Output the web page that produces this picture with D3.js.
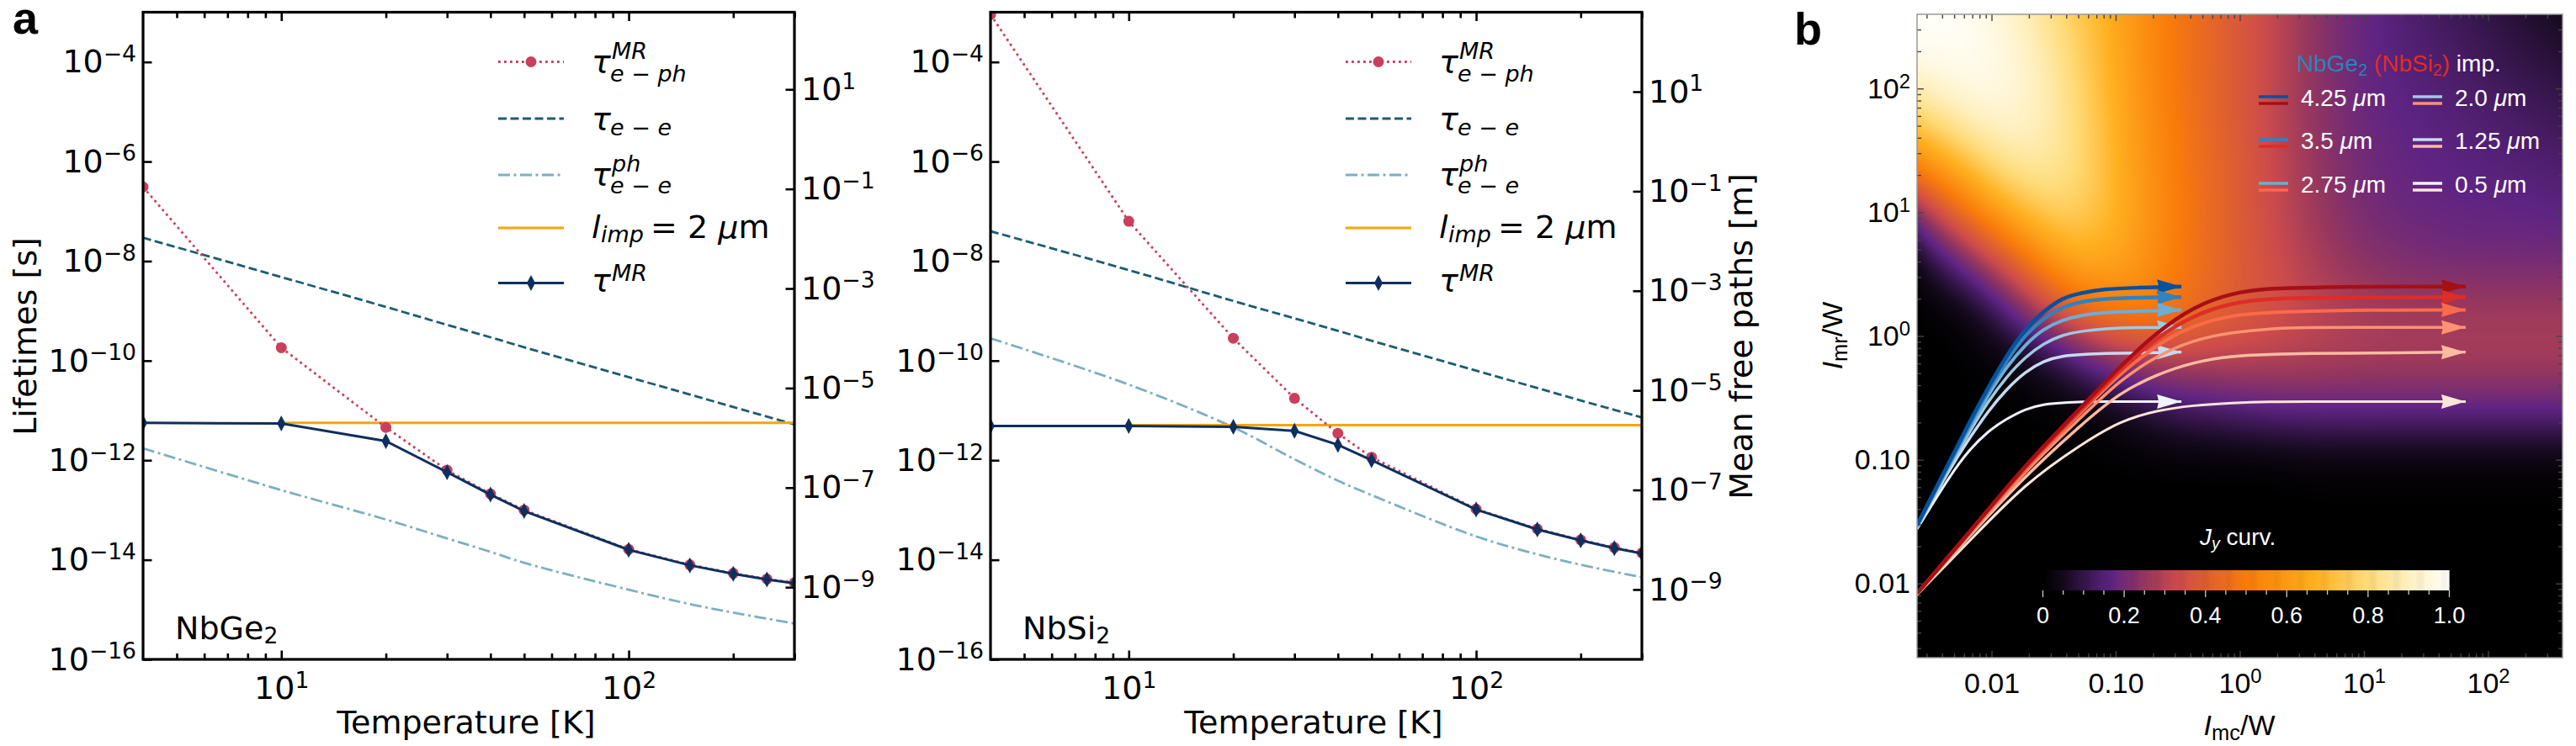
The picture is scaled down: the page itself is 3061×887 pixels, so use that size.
<!DOCTYPE html>
<html>
<head>
<meta charset="utf-8">
<title>Lifetimes and Jy curvature</title>
<script src="https://cdn.jsdelivr.net/npm/d3@7"></script>
<style>
    html, body { margin: 0; padding: 0; background: #fff; }
    svg { display: block; }
    .dv text, text.dv { font-family: "DejaVu Sans"; }
    .lb text, text.lb { font-family: "Liberation Sans"; }
</style>
</head>
<body>
<svg id="fig" width="3061" height="887"></svg>
<script>
// Temperatures [K] of the computed points and of the smooth curves
const tempPoints = [4, 10, 20, 30, 40, 50, 100, 150, 200, 250, 300];
const tempCurve = [4, 10, 20, 30, 40, 50, 100, 150, 200, 300];

// log10 of lifetime [s]
const geTauPhLog = [-6.51, -9.74, -11.34, -12.2, -12.675, -13.0, -13.79, -14.1, -14.27, -14.385, -14.46];
const geTauMrLog = [-11.25, -11.26, -11.615, -12.24, -12.69, -13.02, -13.8, -14.11, -14.28, -14.395, -14.47];
const geTauEeLog = [-7.53, -8.32, -8.92, -9.28, -9.53, -9.73, -10.33, -10.68, -10.93, -11.28];
const geTauEePhLog = [-11.76, -12.6, -13.19, -13.57, -13.84, -14.06, -14.6, -14.89, -15.06, -15.28];

const siTauPhLog = [-3.045, -7.2, -9.55, -10.755, -11.46, -11.94, -12.98, -13.38, -13.6, -13.755, -13.86];
const siTauMrLog = [-11.31, -11.31, -11.33, -11.41, -11.69, -12.0, -12.99, -13.39, -13.61, -13.765, -13.87];
const siTauEeLog = [-7.4, -8.18, -8.8, -9.15, -9.4, -9.6, -10.2, -10.55, -10.8, -11.14];
const siTauEePhLog = [-9.55, -10.48, -11.34, -11.98, -12.41, -12.7, -13.53, -13.89, -14.1, -14.35];

// Fermi velocity [m/s] links the lifetime axis to the mean free path axis
const geVelocity = 3.55e5;
const siVelocity = 3.95e5;
const impurityLength = 2e-6;

const tempMajor = [10, 100];
const tempMinor = [5, 6, 7, 8, 9, 20, 30, 40, 50, 60, 70, 80, 90, 200, 300];
const lifetimeTicks = [1e-16, 1e-14, 1e-12, 1e-10, 1e-8, 1e-6, 1e-4];
const pathTicks = [1e-9, 1e-7, 1e-5, 1e-3, 1e-1, 1e1];

// Panel b: log10 positions of the curvature grid and values (top row first)
const gridLogMc = [-2.6, -2.2, -1.8, -1.4, -1.0, -0.6, -0.2, 0.2, 0.6, 1.0, 1.4, 1.8, 2.2, 2.6];
const gridLogMr = [2.6, 2.2, 1.8, 1.4, 1.0, 0.6, 0.2, -0.2, -0.6, -1.0, -1.4, -1.8, -2.2, -2.6];
const curvature = [
    [1.00, 0.99, 0.92, 0.78, 0.64, 0.50, 0.42, 0.33, 0.24, 0.17, 0.14, 0.11, 0.08, 0.05],
    [0.97, 1.00, 0.95, 0.82, 0.65, 0.50, 0.42, 0.33, 0.24, 0.17, 0.15, 0.13, 0.10, 0.08],
    [0.80, 0.92, 0.95, 0.84, 0.66, 0.51, 0.42, 0.33, 0.24, 0.18, 0.16, 0.15, 0.13, 0.11],
    [0.55, 0.72, 0.88, 0.85, 0.67, 0.52, 0.43, 0.34, 0.25, 0.19, 0.17, 0.16, 0.15, 0.14],
    [0.22, 0.48, 0.68, 0.80, 0.68, 0.53, 0.43, 0.34, 0.26, 0.20, 0.18, 0.17, 0.17, 0.16],
    [0.02, 0.20, 0.42, 0.64, 0.65, 0.52, 0.43, 0.35, 0.28, 0.23, 0.21, 0.20, 0.20, 0.20],
    [0.00, 0.00, 0.17, 0.40, 0.52, 0.50, 0.42, 0.36, 0.31, 0.28, 0.27, 0.27, 0.27, 0.27],
    [0.00, 0.00, 0.01, 0.10, 0.24, 0.30, 0.30, 0.30, 0.29, 0.28, 0.28, 0.28, 0.28, 0.28],
    [0.00, 0.00, 0.00, 0.00, 0.03, 0.10, 0.13, 0.16, 0.17, 0.17, 0.17, 0.17, 0.17, 0.17],
    [0.00, 0.00, 0.00, 0.00, 0.00, 0.00, 0.00, 0.00, 0.01, 0.01, 0.01, 0.01, 0.01, 0.01],
    [0.00, 0.00, 0.00, 0.00, 0.00, 0.00, 0.00, 0.00, 0.00, 0.00, 0.00, 0.00, 0.00, 0.00],
    [0.00, 0.00, 0.00, 0.00, 0.00, 0.00, 0.00, 0.00, 0.00, 0.00, 0.00, 0.00, 0.00, 0.00],
    [0.00, 0.00, 0.00, 0.00, 0.00, 0.00, 0.00, 0.00, 0.00, 0.00, 0.00, 0.00, 0.00, 0.00],
    [0.00, 0.00, 0.00, 0.00, 0.00, 0.00, 0.00, 0.00, 0.00, 0.00, 0.00, 0.00, 0.00, 0.00]
];
const curvStops = [0, 0.05, 0.166, 0.25, 0.33, 0.5, 0.67, 0.8, 0.9, 1];
const curvColors = ["#000000", "#150a1e", "#5e2483", "#94365f", "#cc4b4b", "#f97b0a", "#ffb020", "#ffdc7a", "#fff0c0", "#fffffa"];

// Panel b: flow curves, log10 of I_mc/W and I_mr/W
const geLogMc = [-2.6, -2.33, -2.18, -2.03, -1.88, -1.73, -1.58, -1.43, -1.27, -1.09, -0.85, -0.47];
const ge425 = [-1.53, -0.997, -0.7, -0.42, -0.16, 0.06, 0.2, 0.31, 0.35, 0.38, 0.39, 0.4];
const ge350 = [-1.53, -1.01, -0.72, -0.44, -0.2, 0.01, 0.145, 0.235, 0.28, 0.3, 0.31, 0.315];
const ge275 = [-1.54, -1.02, -0.75, -0.48, -0.25, -0.07, 0.06, 0.13, 0.17, 0.19, 0.2, 0.21];
const ge200 = [-1.55, -1.04, -0.78, -0.53, -0.33, -0.17, -0.06, 0.01, 0.04, 0.06, 0.07, 0.07];
const ge125 = [-1.55, -1.06, -0.83, -0.61, -0.43, -0.29, -0.2, -0.16, -0.15, -0.14, -0.14, -0.13];
const ge050 = [-1.56, -1.12, -0.92, -0.77, -0.67, -0.59, -0.55, -0.54, -0.53, -0.53, -0.53, -0.53];

const siLogMc = [-2.6, -2.18, -1.73, -1.27, -0.97, -0.67, -0.37, -0.06, 0.24, 0.54, 0.99, 1.82];
const si425 = [-2.08, -1.59, -1.04, -0.57, -0.25, 0.03, 0.24, 0.35, 0.385, 0.39, 0.4, 0.4];
const si350 = [-2.08, -1.59, -1.05, -0.59, -0.28, -0.01, 0.17, 0.27, 0.3, 0.31, 0.31, 0.315];
const si275 = [-2.08, -1.6, -1.07, -0.61, -0.31, -0.07, 0.09, 0.17, 0.19, 0.2, 0.21, 0.21];
const si200 = [-2.08, -1.61, -1.09, -0.65, -0.36, -0.16, -0.03, 0.03, 0.06, 0.07, 0.07, 0.07];
const si125 = [-2.09, -1.62, -1.13, -0.71, -0.46, -0.31, -0.21, -0.16, -0.15, -0.14, -0.14, -0.13];
const si050 = [-2.09, -1.66, -1.19, -0.87, -0.69, -0.6, -0.56, -0.54, -0.53, -0.53, -0.53, -0.53];

const geCurves = [ge425, ge350, ge275, ge200, ge125, ge050];
const siCurves = [si425, si350, si275, si200, si125, si050];
const blues = ["#08519c", "#3182bd", "#6baed6", "#9ecae1", "#c6dbef", "#eff3ff"];
const reds = ["#a50f15", "#de2d26", "#fb6a4a", "#fc9272", "#fcbba1", "#fee5d9"];
const curveWidths = [4.5, 4.5, 4, 3.5, 3.5, 3];
const impLabels = ["4.25", "3.5", "2.75", "2.0", "1.25", "0.5"];

const mapTicks = [0.01, 0.1, 1, 10, 100];
const mapMinor = [];
[0.001, 0.01, 0.1, 1, 10, 100].forEach(d => [2, 3, 4, 5, 6, 7, 8, 9].forEach(k => {
    if (d * k > 0.0025 && d * k < 400) mapMinor.push(d * k);
}));
const barTicks = [0, 0.2, 0.4, 0.6, 0.8, 1.0];
const barMinor = [0.05, 0.1, 0.15, 0.25, 0.3, 0.35, 0.45, 0.5, 0.55, 0.65, 0.7, 0.75, 0.85, 0.9, 0.95];

const svg = d3.select("#fig");
svg.append("rect").attr("width", 3061).attr("height", 887).attr("fill", "#fff");

// "10" with a raised exponent, as tick text
function decadeText(sel) {
    sel.each(function (d) {
        const exp = Math.round(Math.log10(d));
        const t = d3.select(this);
        t.text("10");
        t.append("tspan").attr("font-size", "0.7em").attr("dy", "-0.5em")
            .text(String(exp).replace("-", "\u2212"));
    });
}

// base with optional super and subscript at fixed offsets
function mathLabel(g, x, y, o) {
    const size = 38;
    g.append("text").attr("x", x).attr("y", y).attr("font-size", size)
        .attr("font-style", "italic").text(o.base);
    if (o.sup) g.append("text").attr("x", x + 24).attr("y", y + (o.sub ? -16 : -12))
        .attr("font-size", 27).attr("font-style", "italic").text(o.sup);
    if (o.sub) g.append("text").attr("x", x + o.subDx).attr("y", y + o.subDy)
        .attr("font-size", 27).attr("font-style", "italic").text(o.sub);
}

function drawLifetimePanel(p) {
    const x = d3.scaleLog().domain([4, 300]).range([p.left, p.left + 774]);
    const y = d3.scaleLog().domain([1e-16, 1e-3]).range([784, 14.5]);
    const y2 = d3.scaleLog().domain([1e-16 * p.velocity, 1e-3 * p.velocity]).range([784, 14.5]);
    const g = svg.append("g").attr("class", "dv");
    const clipId = "clip-" + p.name;
    g.append("clipPath").attr("id", clipId).append("rect")
        .attr("x", p.left).attr("y", 14.5).attr("width", 774).attr("height", 769.5);

    const plot = g.append("g").attr("clip-path", `url(#${clipId})`);
    const line = (ts, curve) => d3.line()
        .x((d, i) => x(ts[i]))
        .y(d => y(Math.pow(10, d)))
        .curve(curve);

    plot.append("path").attr("d", line(tempCurve, d3.curveCatmullRom)(p.ee))
        .attr("fill", "none").attr("stroke", "#1b5e6f").attr("stroke-width", 2.8)
        .attr("stroke-dasharray", "10 4.5");
    plot.append("path").attr("d", line(tempCurve, d3.curveCatmullRom)(p.eePh))
        .attr("fill", "none").attr("stroke", "#7dafc1").attr("stroke-width", 2.8)
        .attr("stroke-dasharray", "14 4.5 3 4.5");
    plot.append("line")
        .attr("x1", x(10)).attr("x2", x(300))
        .attr("y1", y(impurityLength / p.velocity)).attr("y2", y(impurityLength / p.velocity))
        .attr("stroke", "#f4a60d").attr("stroke-width", 3);
    plot.append("path").attr("d", line(tempPoints, d3.curveLinear)(p.ph))
        .attr("fill", "none").attr("stroke", "#c9405c").attr("stroke-width", 2.8)
        .attr("stroke-dasharray", "2.8 4.2");
    plot.selectAll(".ph").data(p.ph).enter().append("circle")
        .attr("cx", (d, i) => x(tempPoints[i])).attr("cy", d => y(Math.pow(10, d)))
        .attr("r", 6.5).attr("fill", "#c9405c");
    plot.append("path").attr("d", line(tempPoints, d3.curveLinear)(p.mr))
        .attr("fill", "none").attr("stroke", "#0e2f5f").attr("stroke-width", 3);
    plot.selectAll(".mr").data(p.mr).enter().append("path")
        .attr("d", "M0,-9.5L5,0L0,9.5L-5,0Z")
        .attr("transform", (d, i) => `translate(${x(tempPoints[i])},${y(Math.pow(10, d))})`)
        .attr("fill", "#0e2f5f");

    // frame and ticks, ticks point inwards
    const styleAxis = a => {
        a.attr("font-size", 38).attr("font-family", "DejaVu Sans");
        a.selectAll(".domain").remove();
        a.selectAll(".tick line").attr("stroke", "#000").attr("stroke-width", 2.6);
        a.selectAll(".tick text").attr("fill", "#000");
    };
    const blank = () => "";
    g.append("g").attr("transform", "translate(0,784)")
        .call(d3.axisBottom(x).tickValues(tempMinor).tickSize(-7).tickFormat(blank)).call(styleAxis);
    g.append("g").attr("transform", "translate(0,14.5)")
        .call(d3.axisTop(x).tickValues(tempMinor).tickSize(-7).tickFormat(blank)).call(styleAxis);
    g.append("g").attr("transform", "translate(0,14.5)")
        .call(d3.axisTop(x).tickValues(tempMajor).tickSize(-10.5).tickFormat(blank)).call(styleAxis);
    g.append("g").attr("transform", "translate(0,784)")
        .call(d3.axisBottom(x).tickValues(tempMajor).tickSize(-10.5).tickPadding(20).tickFormat(blank))
        .call(styleAxis)
        .call(a => a.selectAll(".tick text").call(decadeText));
    g.append("g").attr("transform", `translate(${p.left},0)`)
        .call(d3.axisLeft(y).tickValues(lifetimeTicks).tickSize(-10.5).tickPadding(8).tickFormat(blank))
        .call(styleAxis)
        .call(a => a.selectAll(".tick text").call(decadeText));
    g.append("g").attr("transform", `translate(${p.left + 774},0)`)
        .call(d3.axisRight(y2).tickValues(pathTicks).tickSize(-10.5).tickPadding(8).tickFormat(blank))
        .call(styleAxis)
        .call(a => a.selectAll(".tick text").call(decadeText));
    g.append("rect").attr("x", p.left).attr("y", 14.5).attr("width", 774).attr("height", 769.5)
        .attr("fill", "none").attr("stroke", "#000").attr("stroke-width", 3.2);

    g.append("text").attr("x", p.left + 38).attr("y", 760).attr("font-size", 38).text(p.name)
        .append("tspan").attr("font-size", "0.7em").attr("dy", "0.2em").text("2");
    g.append("text").attr("x", p.left + 384).attr("y", 872)
        .attr("text-anchor", "middle").attr("font-size", 38).text("Temperature [K]");

    // legend
    const hx = p.left + 422, tx = p.left + 533;
    const lg = g.append("g");
    const handle = (yy, stroke, dash, width) => lg.append("line")
        .attr("x1", hx).attr("x2", hx + 78).attr("y1", yy).attr("y2", yy)
        .attr("stroke", stroke).attr("stroke-width", width).attr("stroke-dasharray", dash);
    handle(73.5, "#c9405c", "2.8 4.2", 2.8);
    lg.append("circle").attr("cx", hx + 39).attr("cy", 73.5).attr("r", 6.5).attr("fill", "#c9405c");
    handle(141, "#1b5e6f", "10 4.5", 2.8);
    handle(208, "#7dafc1", "14 4.5 3 4.5", 2.8);
    handle(271, "#f4a60d", null, 3);
    handle(336.5, "#0e2f5f", null, 3);
    lg.append("path").attr("d", "M0,-9.5L5,0L0,9.5L-5,0Z")
        .attr("transform", `translate(${hx + 39},336.5)`).attr("fill", "#0e2f5f");

    mathLabel(lg, tx, 86, { base: "\u03c4", sup: "MR", sub: "e \u2212 ph", subDx: 22, subDy: 11 });
    mathLabel(lg, tx, 154, { base: "\u03c4", sub: "e \u2212 e", subDx: 22, subDy: 7 });
    mathLabel(lg, tx, 220, { base: "\u03c4", sup: "ph", sub: "e \u2212 e", subDx: 22, subDy: 10 });
    mathLabel(lg, tx, 283, { base: "l", sub: "imp", subDx: 11, subDy: 5 });
    lg.append("text").attr("x", tx + 70).attr("y", 283).attr("font-size", 38)
        .html('= 2 <tspan font-style="italic">\u03bc</tspan>m');
    mathLabel(lg, tx, 346, { base: "\u03c4", sup: "MR" });
}

drawLifetimePanel({ name: "NbGe", left: 170, velocity: geVelocity, ph: geTauPhLog, mr: geTauMrLog, ee: geTauEeLog, eePh: geTauEePhLog });
drawLifetimePanel({ name: "NbSi", left: 1177, velocity: siVelocity, ph: siTauPhLog, mr: siTauMrLog, ee: siTauEeLog, eePh: siTauEePhLog });

svg.append("text").attr("class", "dv").attr("transform", "translate(43,400) rotate(-90)")
    .attr("text-anchor", "middle").attr("font-size", 38).text("Lifetimes [s]");
svg.append("text").attr("class", "dv").attr("transform", "translate(2082,400) rotate(-90)")
    .attr("text-anchor", "middle").attr("font-size", 38).text("Mean free paths [m]");
svg.append("text").attr("class", "lb").attr("x", 15).attr("y", 40)
    .attr("font-size", 54).attr("font-weight", "bold").text("a");
svg.append("text").attr("class", "lb").attr("x", 2132).attr("y", 53)
    .attr("font-size", 54).attr("font-weight", "bold").text("b");

// Panel b
const mapDomain = [Math.pow(10, -2.6), Math.pow(10, 2.6)];
const mapX = d3.scaleLog().domain(mapDomain).range([2278, 3045]);
const mapY = d3.scaleLog().domain(mapDomain).range([782, 17]);
const curvColor = d3.scaleLinear().domain(curvStops).range(curvColors).clamp(true);

const mapW = 767, mapH = 765;
const heat = document.createElement("canvas");
heat.width = mapW;
heat.height = mapH;
const heatCtx = heat.getContext("2d");
const heatImg = heatCtx.createImageData(mapW, mapH);
const lut = d3.range(1025).map(i => d3.rgb(curvColor(i / 1024)));
// smooth the value grid across x for each row, then across y for each pixel column
const rowSplines = curvature.map(r => d3.interpolateBasis(r));
const n = gridLogMc.length;
for (let px = 0; px < mapW; px++) {
    const lx = Math.log10(mapX.invert(2278 + px + 0.5));
    const tx = (lx - gridLogMc[0]) / (gridLogMc[n - 1] - gridLogMc[0]);
    const col = d3.interpolateBasis(rowSplines.map(f => f(tx)));
    for (let py = 0; py < mapH; py++) {
        const ly = Math.log10(mapY.invert(17 + py + 0.5));
        const ty = (gridLogMr[0] - ly) / (gridLogMr[0] - gridLogMr[n - 1]);
        const c = lut[Math.max(0, Math.min(1024, Math.round(col(ty) * 1024)))];
        const k = (py * mapW + px) * 4;
        heatImg.data[k] = c.r;
        heatImg.data[k + 1] = c.g;
        heatImg.data[k + 2] = c.b;
        heatImg.data[k + 3] = 255;
    }
}
heatCtx.putImageData(heatImg, 0, 0);

const gb = svg.append("g").attr("class", "lb");
gb.append("image").attr("x", 2278).attr("y", 17).attr("width", mapW).attr("height", mapH)
    .attr("href", heat.toDataURL());
gb.append("clipPath").attr("id", "clip-map").append("rect")
    .attr("x", 2278).attr("y", 17).attr("width", mapW).attr("height", mapH);
const flows = gb.append("g").attr("clip-path", "url(#clip-map)");

function drawFlows(curves, logMc, colors) {
    const line = d3.line()
        .x((d, j) => mapX(Math.pow(10, logMc[j])))
        .y(d => mapY(Math.pow(10, d)))
        .curve(d3.curveBasis);
    // palest first, so the darker curves stay visible where they merge
    d3.range(curves.length - 1, -1, -1).forEach(i => {
        flows.append("path").attr("d", line(curves[i])).attr("fill", "none")
            .attr("stroke", colors[i]).attr("stroke-width", curveWidths[i]);
    });
    curves.forEach((c, i) => {
        const tipX = mapX(Math.pow(10, logMc[logMc.length - 1]));
        const tipY = mapY(Math.pow(10, c[c.length - 1]));
        flows.append("path").attr("d", "M0,0L-29,-8.5L-27,0L-29,8.5Z")
            .attr("transform", `translate(${tipX},${tipY})`).attr("fill", colors[i]);
    });
}
drawFlows(geCurves, geLogMc, blues);
drawFlows(siCurves, siLogMc, reds);

const noLabel = () => "";
const tickStyle = a => {
    a.selectAll(".domain").remove();
    a.selectAll(".tick line").attr("stroke", "#444").attr("stroke-width", 1.4);
};
// only bottom and left carry numbers: 0.01, 0.10 then powers of ten
const mapTickText = a => {
    a.attr("font-family", "Liberation Sans").attr("font-size", 34);
    a.selectAll(".tick text").attr("fill", "#000").each(function (d) {
        const t = d3.select(this);
        if (d < 1) t.text(d.toFixed(2));
        else t.call(decadeText);
    });
};
[["axisBottom", 782, true], ["axisTop", 17, false]].forEach(([fn, pos, labelled]) => {
    gb.append("g").attr("transform", `translate(0,${pos})`)
        .call(d3[fn](mapX).tickValues(mapMinor).tickSize(-5).tickFormat(noLabel)).call(tickStyle);
    const a = gb.append("g").attr("transform", `translate(0,${pos})`)
        .call(d3[fn](mapX).tickValues(mapTicks).tickSize(-8).tickPadding(18).tickFormat(noLabel)).call(tickStyle);
    if (labelled) a.call(mapTickText);
});
[["axisLeft", 2278, true], ["axisRight", 3045, false]].forEach(([fn, pos, labelled]) => {
    gb.append("g").attr("transform", `translate(${pos},0)`)
        .call(d3[fn](mapY).tickValues(mapMinor).tickSize(-5).tickFormat(noLabel)).call(tickStyle);
    const a = gb.append("g").attr("transform", `translate(${pos},0)`)
        .call(d3[fn](mapY).tickValues(mapTicks).tickSize(-8).tickPadding(8).tickFormat(noLabel)).call(tickStyle);
    if (labelled) a.call(mapTickText);
});
gb.append("rect").attr("x", 2278).attr("y", 17).attr("width", mapW).attr("height", mapH)
    .attr("fill", "none").attr("stroke", "#999").attr("stroke-width", 1.5);

gb.append("text").attr("x", 2661).attr("y", 874).attr("text-anchor", "middle").attr("font-size", 34)
    .html('<tspan font-style="italic">I</tspan><tspan font-size="0.75em" dy="0.25em">mc</tspan><tspan dy="-0.19em">/W</tspan>');
gb.append("text").attr("transform", "translate(2189,399) rotate(-90)").attr("text-anchor", "middle").attr("font-size", 34)
    .html('<tspan font-style="italic">I</tspan><tspan font-size="0.75em" dy="0.25em">mr</tspan><tspan dy="-0.19em">/W</tspan>');

// Legend of panel b
gb.append("text").attr("x", 2729).attr("y", 85).attr("font-size", 28)
    .html('<tspan fill="#2b83ba">NbGe<tspan font-size="0.7em" dy="0.25em">2</tspan></tspan>' +
        '<tspan fill="#de2d26" dy="-0.18em"> (NbSi<tspan font-size="0.7em" dy="0.25em">2</tspan><tspan dy="-0.18em">)</tspan></tspan>' +
        '<tspan fill="#fff"> imp.</tspan>');
const rowY = [126, 177, 229];
impLabels.forEach((lab, i) => {
    const col = i < 3 ? 0 : 1, row = i % 3;
    const sx = col ? 2867 : 2684, lx = col ? 2917 : 2734, by = rowY[row];
    gb.append("line").attr("x1", sx).attr("x2", sx + 35).attr("y1", by - 11).attr("y2", by - 11)
        .attr("stroke", blues[i]).attr("stroke-width", 3.5);
    gb.append("line").attr("x1", sx).attr("x2", sx + 35).attr("y1", by - 3).attr("y2", by - 3)
        .attr("stroke", reds[i]).attr("stroke-width", 3.5);
    gb.append("text").attr("x", lx).attr("y", by).attr("font-size", 28).attr("fill", "#fff")
        .html(`${lab} <tspan font-style="italic">\u03bc</tspan>m`);
});

// Colour bar
const barX = d3.scaleLinear().domain([0, 1]).range([2427, 2910]);
const barSteps = d3.range(0, 1, 0.002);
gb.selectAll(".bar").data(barSteps).enter().append("rect")
    .attr("x", d => barX(d)).attr("y", 678)
    .attr("width", barX(0.002) - barX(0) + 0.6).attr("height", 24)
    .attr("fill", d => curvColor(d));
gb.append("g").attr("transform", "translate(0,702)")
    .call(d3.axisBottom(barX).tickValues(barMinor).tickSize(5).tickFormat(noLabel))
    .call(a => { a.selectAll(".domain").remove(); a.selectAll(".tick line").attr("stroke", "#ccc").attr("stroke-width", 1.3); });
gb.append("g").attr("transform", "translate(0,702)")
    .call(d3.axisBottom(barX).tickValues(barTicks).tickSize(8).tickPadding(12).tickFormat(d => d === 0 ? "0" : d.toFixed(1)))
    .call(a => {
        a.attr("font-family", "Liberation Sans").attr("font-size", 27);
        a.selectAll(".domain").remove();
        a.selectAll(".tick line").attr("stroke", "#ccc").attr("stroke-width", 1.3);
        a.selectAll(".tick text").attr("fill", "#fff");
    });
gb.append("text").attr("x", 2614).attr("y", 648).attr("font-size", 28).attr("fill", "#fff")
    .html('<tspan font-style="italic">J<tspan font-size="0.7em" dy="0.25em">y</tspan></tspan><tspan dy="-0.18em"> curv.</tspan>');
</script>
</body>
</html>
